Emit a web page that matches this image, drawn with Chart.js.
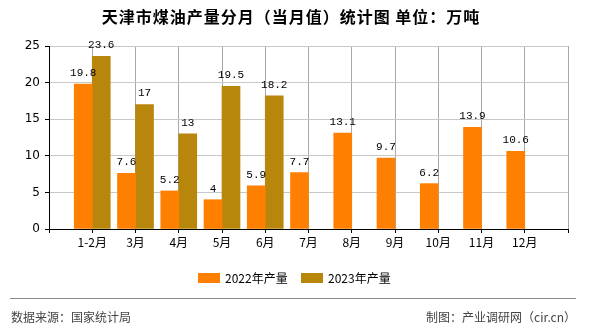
<!DOCTYPE html>
<html>
<head>
<meta charset="utf-8">
<script src="https://cdn.jsdelivr.net/npm/chart.js@4"></script>
<style>
  body { margin: 0; background: #fff; }
  #wrap { width: 590px; height: 330px; }
</style>
</head>
<body>
<div id="wrap"><canvas id="myChart" width="590" height="330"></canvas></div>
<script>
const months = ['1-2月', '3月', '4月', '5月', '6月', '7月', '8月', '9月', '10月', '11月', '12月'];
const output2022 = [19.8, 7.6, 5.2, 4, 5.9, 7.7, 13.1, 9.7, 6.2, 13.9, 10.6];
const output2023 = [23.6, 17, 13, 19.5, 18.2, null, null, null, null, null, null];
const yTicks = [0, 5, 10, 15, 20, 25];

const titleText = '天津市煤油产量分月（当月值）统计图 单位：万吨';
const sourceText = '数据来源：国家统计局';
const madeByText = '制图：产业调研网（cir.cn）';

const cjk = '"Noto Sans CJK SC", "DejaVu Sans", sans-serif';

function toPoints(values) {
  return values.map((v, i) => ({ x: i, y: v }));
}

// value labels, title, legend and footer
const extras = {
  id: 'extras',
  afterDatasetsDraw(chart) {
    const c = chart.ctx;
    c.save();
    c.font = '11px "Liberation Mono", "DejaVu Sans Mono", monospace';
    c.fillStyle = '#000';
    c.textAlign = 'center';
    c.textBaseline = 'middle';
    chart.data.datasets.forEach((ds, di) => {
      chart.getDatasetMeta(di).data.forEach((bar, i) => {
        const v = ds.data[i].y;
        if (v === null) return;
        c.fillText(String(v), bar.x, bar.y - 11);
      });
    });
    c.restore();
  },
  afterDraw(chart) {
    const c = chart.ctx;
    c.save();
    c.fillStyle = '#000';
    c.textAlign = 'center';
    c.textBaseline = 'middle';
    c.font = 'bold 16px ' + cjk;
    c.letterSpacing = '1px';
    c.fillText(titleText, 291, 17);
    c.letterSpacing = '0px';

    // legend
    c.font = '12px ' + cjk;
    c.textAlign = 'left';
    let lx = 198;
    chart.data.datasets.forEach(ds => {
      c.fillStyle = ds.backgroundColor;
      c.fillRect(lx, 273, 22, 10);
      c.fillStyle = '#000';
      c.fillText(ds.label, lx + 27, 278);
      lx += 103;
    });

    // footer
    c.strokeStyle = '#888';
    c.lineWidth = 1;
    c.beginPath();
    c.moveTo(10, 298.5);
    c.lineTo(576, 298.5);
    c.stroke();
    c.fillStyle = '#444';
    c.font = '12px ' + cjk;
    c.textAlign = 'left';
    c.fillText(sourceText, 11, 317);
    c.textAlign = 'right';
    c.fillText(madeByText, 576, 317);
    c.restore();
  }
};

const ctx = document.getElementById('myChart');
new Chart(ctx, {
  type: 'bar',
  data: {
    datasets: [{
      label: '2022年产量',
      data: toPoints(output2022),
      backgroundColor: '#FF8000',
      barThickness: 18
    }, {
      label: '2023年产量',
      data: toPoints(output2023),
      backgroundColor: '#B8860B',
      barThickness: 18
    }]
  },
  options: {
    responsive: false,
    animation: false,
    layout: { padding: { left: 0, top: 46, right: 22, bottom: 81 } },
    plugins: {
      legend: { display: false },
      title: { display: false },
      tooltip: { enabled: false }
    },
    scales: {
      x: {
        type: 'linear',
        min: -1,
        max: 11,
        offset: false,
        afterFit: s => { s.height = 20; s.paddingLeft = 0; s.paddingRight = 0; },
        afterBuildTicks: s => { s.ticks = [{ value: -1 }].concat(months.map((m, i) => ({ value: i })), [{ value: 11 }]); },
        ticks: {
          color: '#000',
          font: { size: 12, family: cjk },
          padding: 2,
          maxRotation: 0,
          autoSkip: false,
          callback: v => months[v] || ''
        },
        grid: { color: '#a8a8a8', tickColor: '#000', tickLength: 4, offset: false },
        border: { color: '#000' }
      },
      y: {
        min: 0,
        max: 25,
        afterFit: s => { s.width = 49; },
        afterBuildTicks: s => { s.ticks = yTicks.map(v => ({ value: v })); },
        ticks: {
          color: '#000',
          font: { size: 12, family: '"DejaVu Sans", sans-serif' },
          padding: 5
        },
        grid: { color: '#c8c8c8', tickColor: '#000', tickLength: 4 },
        border: { color: '#000' }
      }
    }
  },
  plugins: [extras]
});
</script>
</body>
</html>
